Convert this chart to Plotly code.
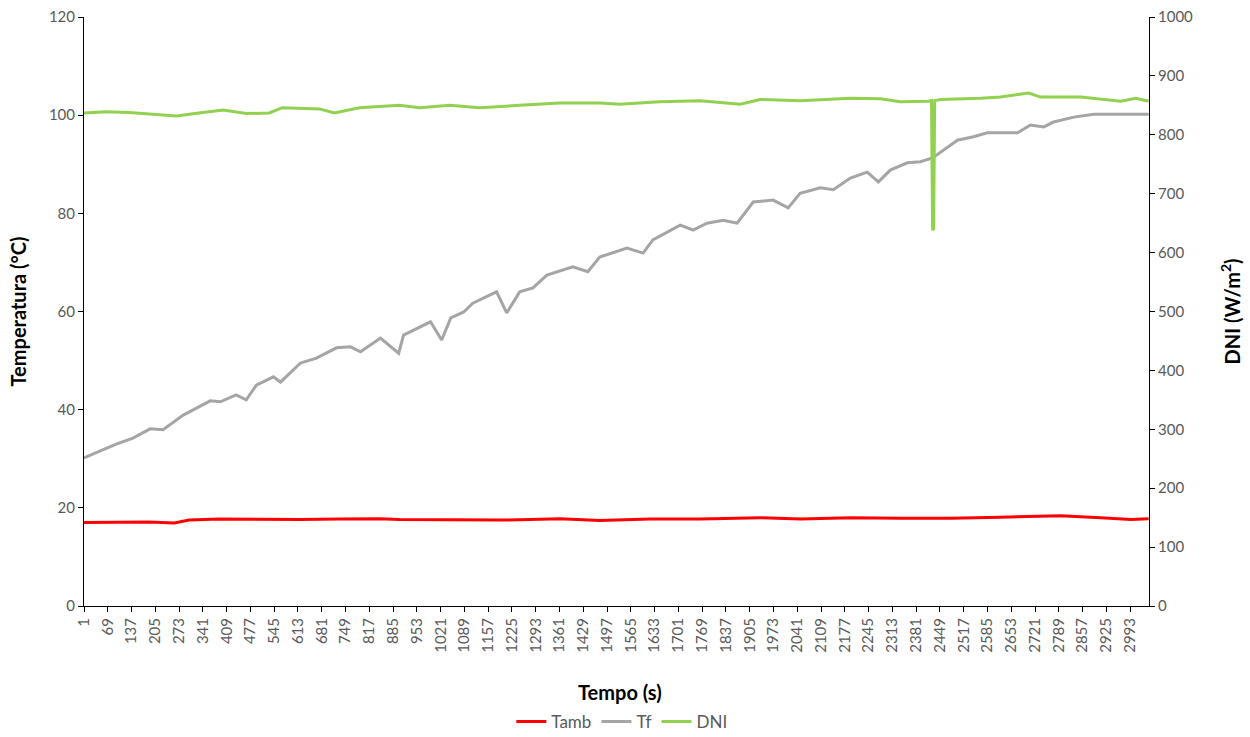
import plotly.graph_objects as go

# Ambient temperature (°C)
tamb_t = [1, 130, 187, 259, 302, 388, 502, 617, 731, 846, 903, 1047, 1190, 1276,
          1362, 1476, 1620, 1763, 1935, 2050, 2193, 2336, 2479, 2622, 2794, 2909,
          2995, 3046]
tamb_v = [17.0, 17.0, 17.1, 16.9, 17.5, 17.7, 17.6, 17.6, 17.7, 17.8, 17.6, 17.5,
          17.5, 17.6, 17.8, 17.4, 17.7, 17.7, 18.0, 17.7, 18.0, 17.9, 17.9, 18.1,
          18.4, 18.0, 17.6, 17.8]

# Fluid temperature (°C)
tf_t = [1, 93, 141, 190, 227, 285, 362, 391, 436, 465, 494, 543, 563, 620, 666,
        723, 763, 792, 849, 901, 915, 992, 1024, 1050, 1087, 1113, 1181, 1210,
        1247, 1285, 1325, 1399, 1442, 1476, 1554, 1600, 1628, 1668, 1706, 1743,
        1783, 1829, 1869, 1915, 1972, 2015, 2049, 2107, 2144, 2193, 2241, 2273,
        2307, 2356, 2393, 2428, 2459, 2499, 2545, 2585, 2631, 2671, 2708, 2746,
        2774, 2832, 2889, 2966, 3046]
tf_v = [30.2, 33.0, 34.2, 36.1, 35.9, 38.9, 41.8, 41.6, 43.0, 42.0, 45.0, 46.7,
        45.6, 49.5, 50.5, 52.6, 52.8, 51.8, 54.6, 51.5, 55.2, 57.9, 54.2, 58.7,
        59.9, 61.7, 64.0, 59.7, 64.0, 64.8, 67.4, 69.1, 68.1, 71.1, 72.9, 71.9,
        74.6, 76.2, 77.6, 76.6, 78.0, 78.6, 78.0, 82.3, 82.7, 81.1, 84.1, 85.2,
        84.8, 87.2, 88.4, 86.4, 88.8, 90.3, 90.5, 91.3, 92.9, 94.9, 95.6, 96.4,
        96.4, 96.4, 98.0, 97.6, 98.6, 99.6, 100.2, 100.2, 100.2]

# Direct normal irradiance (W/m²)
dni_t = [1, 64, 130, 187, 265, 330, 399, 465, 531, 568, 674, 717, 789, 903, 961,
         1047, 1133, 1247, 1362, 1476, 1534, 1648, 1763, 1878, 1935, 2050, 2193,
         2279, 2336, 2416, 2425, 2428, 2431, 2434, 2451, 2565, 2622, 2703, 2737,
         2852, 2909, 2966, 3009, 3046]
dni_v = [837, 839, 838, 836, 832, 837, 842, 836, 837, 846, 844, 837, 846, 850,
         846, 850, 846, 850, 854, 854, 852, 856, 858, 852, 860, 858, 862, 861,
         856, 857, 858, 640, 640, 858, 860, 862, 864, 871, 864, 864, 860, 857,
         862, 857]

# Category tick labels along the time axis
tick_vals = list(range(1, 2994, 68))
tick_text = [str(v) for v in tick_vals]

FONT = "Lato"
TICK_COLOR = "#595959"

fig = go.Figure()
fig.add_trace(go.Scatter(x=tamb_t, y=tamb_v, name="Tamb", mode="lines",
                         line=dict(color="#FF0000", width=3)))
fig.add_trace(go.Scatter(x=tf_t, y=tf_v, name="Tf", mode="lines",
                         line=dict(color="#A5A5A5", width=3)))
fig.add_trace(go.Scatter(x=dni_t, y=dni_v, name="DNI", mode="lines", yaxis="y2",
                         line=dict(color="#92D050", width=3)))

axis_common = dict(showline=True, linecolor="#000000", linewidth=1,
                   ticks="outside", ticklen=5, tickcolor="#000000",
                   showgrid=False, zeroline=False,
                   tickfont=dict(family=FONT, size=15, color=TICK_COLOR))

fig.update_layout(
    width=1250, height=737,
    margin=dict(l=84, r=101, t=17, b=131, autoexpand=False),
    paper_bgcolor="white", plot_bgcolor="white",
    font=dict(family=FONT),
    xaxis=dict(range=[1, 3047], tickvals=tick_vals, ticktext=tick_text,
               tickangle=-90, automargin=False, **axis_common),
    yaxis=dict(range=[0, 120], dtick=20, automargin=False, **axis_common),
    yaxis2=dict(range=[0, 1000], dtick=100, overlaying="y", side="right",
                automargin=False, **axis_common),
    showlegend=True,
    legend=dict(orientation="h", x=0.505, xanchor="center", y=-0.197,
                yanchor="middle", font=dict(family=FONT, size=17, color=TICK_COLOR),
                itemwidth=30, tracegroupgap=0),
    annotations=[
        dict(text="<b>Temperatura (°C)</b>", xref="paper", yref="paper",
             x=-0.062, y=0.5, xanchor="center", yanchor="middle",
             textangle=-90, showarrow=False,
             font=dict(family=FONT, size=20, color="#000000")),
        dict(text="<b>DNI (W/m<sup>2</sup>)</b>", xref="paper", yref="paper",
             x=1.076, y=0.5, xanchor="center", yanchor="middle",
             textangle=-90, showarrow=False,
             font=dict(family=FONT, size=20, color="#000000")),
        dict(text="<b>Tempo (s)</b>", xref="paper", yref="paper",
             x=0.503, y=-0.146, xanchor="center", yanchor="middle",
             showarrow=False,
             font=dict(family=FONT, size=20, color="#000000")),
    ],
)

fig.write_html("out.html")
